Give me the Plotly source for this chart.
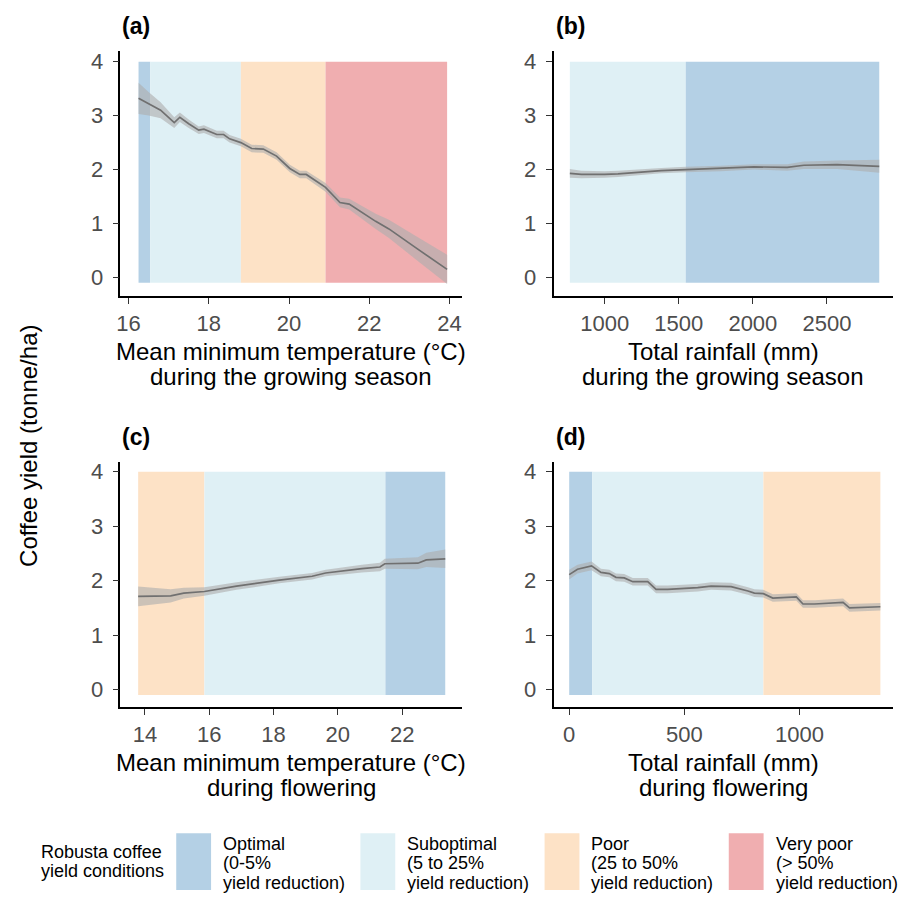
import plotly.graph_objects as go

W, H = 901, 899

# ---------------- data ----------------
# Panel (a): mean minimum temperature during the growing season
a_x = [16.25, 16.5, 16.8, 17.14, 17.28, 17.5, 17.75, 17.88, 18.2, 18.37, 18.52, 18.8, 19.07, 19.36,
       19.69, 20.02, 20.27, 20.43, 20.91, 21.27, 21.5, 22.16, 22.49, 23.2, 23.94]
a_y = [3.32, 3.22, 3.10, 2.87, 2.97, 2.85, 2.73, 2.75, 2.65, 2.65, 2.57, 2.50, 2.39, 2.38,
       2.25, 2.02, 1.91, 1.91, 1.67, 1.39, 1.36, 1.04, 0.90, 0.53, 0.15]
a_ci = [0.29, 0.22, 0.15, 0.10, 0.09, 0.08, 0.07, 0.07, 0.07, 0.07, 0.07, 0.07, 0.07, 0.07,
        0.07, 0.07, 0.07, 0.07, 0.08, 0.09, 0.10, 0.14, 0.17, 0.22, 0.27]
a_bands = [(16.25, 16.54, "Optimal"), (16.54, 18.8, "Suboptimal"),
           (18.8, 20.91, "Poor"), (20.91, 23.94, "Very poor")]

# Panel (b): total rainfall during the growing season
b_x = [765, 843, 1000, 1090, 1381, 1547, 1784, 2008, 2232, 2344, 2568, 2853]
b_y = [1.93, 1.91, 1.91, 1.92, 1.98, 2.00, 2.02, 2.05, 2.04, 2.08, 2.09, 2.06]
b_ci = [0.08, 0.07, 0.06, 0.06, 0.05, 0.05, 0.05, 0.05, 0.06, 0.07, 0.08, 0.12]
b_bands = [(765, 1547, "Suboptimal"), (1547, 2853, "Optimal")]

# Panel (c): mean minimum temperature during flowering
c_x = [13.79, 14.8, 15.21, 15.85, 16.85, 18.18, 19.2, 19.62, 20.75, 21.31, 21.46, 22.49, 22.75, 23.34]
c_y = [1.71, 1.72, 1.77, 1.80, 1.90, 2.01, 2.08, 2.14, 2.22, 2.25, 2.31, 2.32, 2.38, 2.40]
c_ci = [0.18, 0.12, 0.10, 0.08, 0.07, 0.06, 0.06, 0.06, 0.07, 0.08, 0.09, 0.11, 0.13, 0.17]
c_bands = [(13.79, 15.85, "Poor"), (15.85, 21.48, "Suboptimal"), (21.48, 23.34, "Optimal")]

# Panel (d): total rainfall during flowering
d_x = [0, 36, 97, 138, 174, 203, 239, 276, 341, 377, 428, 558, 616, 703, 776, 804, 843, 884,
       986, 1015, 1065, 1189, 1217, 1351]
d_y = [2.11, 2.21, 2.27, 2.15, 2.13, 2.06, 2.05, 1.98, 1.98, 1.84, 1.84, 1.87, 1.90, 1.89, 1.81,
       1.77, 1.76, 1.68, 1.70, 1.57, 1.57, 1.60, 1.50, 1.52]
d_ci = [0.09, 0.08, 0.08, 0.07, 0.07, 0.07, 0.07, 0.07, 0.07, 0.07, 0.07, 0.07, 0.07, 0.07, 0.07,
        0.07, 0.07, 0.07, 0.07, 0.07, 0.07, 0.07, 0.07, 0.07]
d_bands = [(0, 100, "Optimal"), (100, 843, "Suboptimal"), (843, 1351, "Poor")]

band_ymin, band_ymax = -0.1, 4.0

y_ticks = [0, 1, 2, 3, 4]
a_ticks = [16, 18, 20, 22, 24]
b_ticks = [1000, 1500, 2000, 2500]
c_ticks = [14, 16, 18, 20, 22]
d_ticks = [0, 500, 1000]

panel_labels = ["(a)", "(b)", "(c)", "(d)"]
x_titles = [("Mean minimum temperature (°C)", "during the growing season"),
            ("Total rainfall (mm)", "during the growing season"),
            ("Mean minimum temperature (°C)", "during flowering"),
            ("Total rainfall (mm)", "during flowering")]
y_title = "Coffee yield (tonne/ha)"

legend_title = ["Robusta coffee", "yield conditions"]
legend_items = [("Optimal", ["Optimal", "(0-5%", "yield reduction)"]),
                ("Suboptimal", ["Suboptimal", "(5 to 25%", "yield reduction)"]),
                ("Poor", ["Poor", "(25 to 50%", "yield reduction)"]),
                ("Very poor", ["Very poor", "(> 50%", "yield reduction)"])]

# ---------------- styles ----------------
colors = {"Optimal": "#B4D0E5", "Suboptimal": "#DFF0F5", "Poor": "#FDE2C6", "Very poor": "#F0AEB0"}
ribbon_color = "rgba(175,175,175,0.62)"
line_color = "#707070"
FONT = "Liberation Sans, Arial, sans-serif"

def px_x(p):
    return p / W

def px_y(p):
    return 1 - p / H

# panel pixel boxes: (left, right, top, bottom)
boxes = [(117, 460, 49, 295), (552, 893, 49, 295), (117, 460, 461, 707), (552, 893, 461, 707)]
x_ranges = [[15.80, 24.31], [655, 2946], [13.24, 23.86], [-68, 1406]]
y_ranges = [[-0.35, 4.2], [-0.35, 4.2], [-0.33, 4.18], [-0.33, 4.18]]
x_tickss = [a_ticks, b_ticks, c_ticks, d_ticks]

panels = [(a_x, a_y, a_ci, a_bands), (b_x, b_y, b_ci, b_bands),
          (c_x, c_y, c_ci, c_bands), (d_x, d_y, d_ci, d_bands)]

fig = go.Figure()
layout = dict(width=W, height=H, margin=dict(l=0, r=0, t=0, b=0),
              paper_bgcolor="white", plot_bgcolor="white", showlegend=False,
              font=dict(family=FONT, color="black"))
annotations = []
shapes = []

for i, ((xs, ys, ci, bands), box) in enumerate(zip(panels, boxes)):
    n = i + 1
    xa = "x" if n == 1 else f"x{n}"
    ya = "y" if n == 1 else f"y{n}"
    for (x0, x1, cat) in bands:
        fig.add_trace(go.Scatter(x=[x0, x1, x1, x0, x0],
                                 y=[band_ymin, band_ymin, band_ymax, band_ymax, band_ymin],
                                 fill="toself", fillcolor=colors[cat], mode="none",
                                 hoverinfo="skip", xaxis=xa, yaxis=ya))
    upper = [y + c for y, c in zip(ys, ci)]
    lower = [y - c for y, c in zip(ys, ci)]
    fig.add_trace(go.Scatter(x=list(xs) + list(xs)[::-1], y=upper + lower[::-1],
                             fill="toself", fillcolor=ribbon_color, mode="none",
                             hoverinfo="skip", xaxis=xa, yaxis=ya))
    fig.add_trace(go.Scatter(x=xs, y=ys, mode="lines",
                             line=dict(color=line_color, width=1.7),
                             xaxis=xa, yaxis=ya))
    l, r, t, b = box
    axis_common = dict(showline=True, linecolor="black", linewidth=1.6, ticks="outside",
                       ticklen=6, tickwidth=1.2, tickcolor="#333333", showgrid=False,
                       zeroline=False, tickfont=dict(size=22, color="#4D4D4D", family=FONT))
    layout["xaxis" if n == 1 else f"xaxis{n}"] = dict(
        domain=[px_x(l), px_x(r)], range=x_ranges[i], tickvals=x_tickss[i],
        anchor=ya, ticklabelstandoff=0, **axis_common)
    layout["yaxis" if n == 1 else f"yaxis{n}"] = dict(
        domain=[px_y(b), px_y(t)], range=y_ranges[i], tickvals=y_ticks,
        anchor=xa, ticklabelstandoff=5, **axis_common)
    # panel label
    annotations.append(dict(text=f"<b>{panel_labels[i]}</b>", x=px_x(l), y=px_y(t - 25),
                            xref="paper", yref="paper", xanchor="left", yanchor="middle",
                            showarrow=False, font=dict(size=23, color="black", family=FONT)))
    # x titles (two lines)
    cx = (l + r) / 2
    for j, line in enumerate(x_titles[i]):
        annotations.append(dict(text=line, x=px_x(cx), y=px_y(b + 55 + 25 * j),
                                xref="paper", yref="paper", xanchor="center", yanchor="middle",
                                showarrow=False, font=dict(size=24, color="black", family=FONT)))

annotations.append(dict(text=y_title, x=px_x(24), y=px_y(445), xref="paper", yref="paper",
                        xanchor="center", yanchor="middle", textangle=-90, showarrow=False,
                        font=dict(size=24, color="black", family=FONT)))

# legend (manual)
for j, line in enumerate(legend_title):
    annotations.append(dict(text=line, x=px_x(35), y=px_y(852 + 18.5 * j), xref="paper",
                            yref="paper", xanchor="left", yanchor="middle", showarrow=False,
                            font=dict(size=18, color="black", family=FONT)))
for k, (cat, lines) in enumerate(legend_items):
    bx = 173 + 185 * k
    shapes.append(dict(type="rect", xref="paper", yref="paper", x0=px_x(bx), x1=px_x(bx + 35),
                       y0=px_y(890), y1=px_y(833), fillcolor=colors[cat], line=dict(width=0)))
    for j, line in enumerate(lines):
        annotations.append(dict(text=line, x=px_x(bx + 45), y=px_y(843.5 + 19.5 * j),
                                xref="paper", yref="paper", xanchor="left", yanchor="middle",
                                showarrow=False, font=dict(size=18, color="black", family=FONT)))

layout["annotations"] = annotations
layout["shapes"] = shapes
fig.update_layout(**layout)
fig.write_html("out.html", config={"displayModeBar": False},
               post_script="document.body.style.margin='0';document.body.style.padding='0';"
                           "document.body.style.overflow='hidden';")
